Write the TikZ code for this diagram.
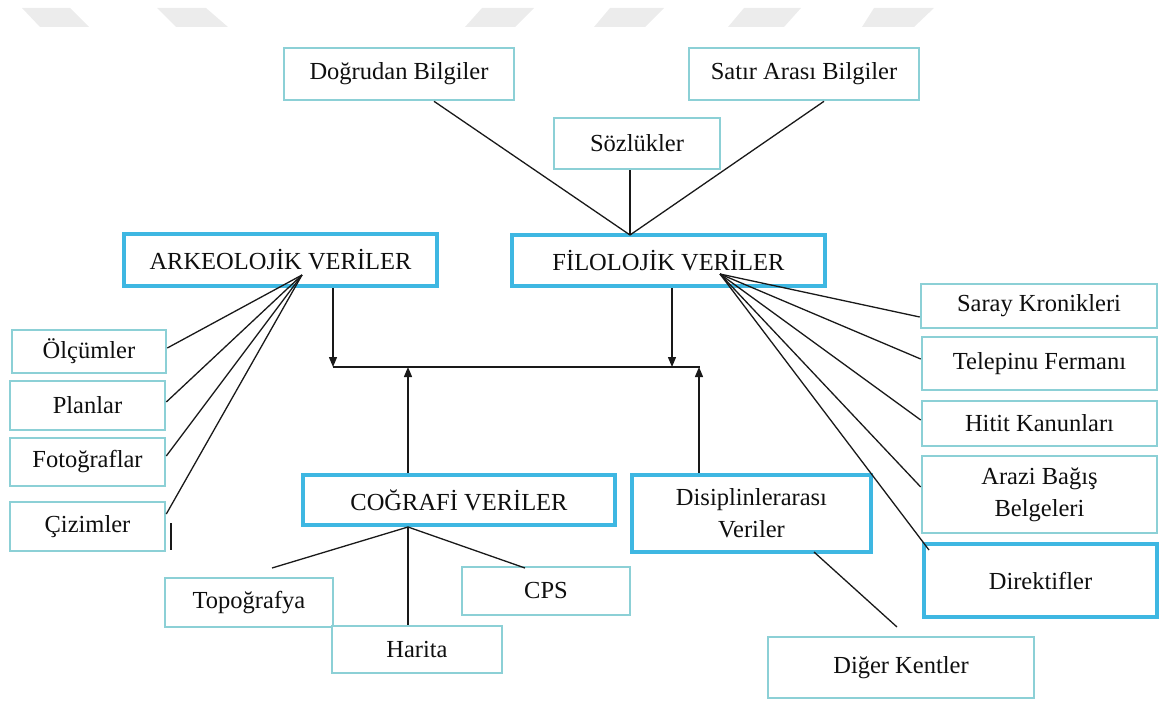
\documentclass[tikz,border=0pt]{standalone}
\usepackage{fontspec}
\setmainfont{Liberation Serif}
\usetikzlibrary{arrows.meta}
\definecolor{thinc}{RGB}{140,208,214}
\definecolor{thickc}{RGB}{62,183,226}
\definecolor{wm}{RGB}{236,236,236}
\definecolor{txt}{RGB}{15,15,15}
\tikzset{
  boxbase/.style={rectangle, fill=white, inner sep=0pt, align=center, text=txt,
    font=\fontsize{24.5}{32}\selectfont},
  thinbox/.style={boxbase, draw=thinc, line width=2.6pt},
  thickbox/.style={boxbase, draw=thickc, line width=4.8pt},
  link/.style={draw=black!90, line width=1.3pt},
  arr/.style={link, -{Triangle[length=10pt,width=8pt]}},
}
\begin{document}
\begin{tikzpicture}[x=1pt,y=-1pt]
\useasboundingbox (0,0) rectangle (1161,701);
% watermark shapes
\fill[wm] (22,8) -- (70,8) -- (89,27) -- (40,27) -- cycle;
\fill[wm] (157,8) -- (206,8) -- (228,27) -- (176,27) -- cycle;
\fill[wm] (482,8) -- (534,8) -- (515,27) -- (465,27) -- cycle;
\fill[wm] (610,8) -- (664,8) -- (645,27) -- (594,27) -- cycle;
\fill[wm] (744,8) -- (801,8) -- (784,27) -- (728,27) -- cycle;
\fill[wm] (874,8) -- (934,8) -- (914,27) -- (862,27) -- cycle;

% boxes
\node[thinbox, minimum width=230pt, minimum height=52pt] (dog) at (399,74) {Doğrudan Bilgiler};
\node[thinbox, minimum width=230pt, minimum height=52pt] (sat) at (804,74) {Satır Arası Bilgiler};
\node[thinbox, minimum width=166pt, minimum height=51pt] (soz) at (637,143.5) {Sözlükler};
\node[thickbox, minimum width=313pt, minimum height=52pt] (ark) at (280.5,260) {ARKEOLOJİK VERİLER};
\node[thickbox, minimum width=313pt, minimum height=51pt] (fil) at (668.5,260.5) {FİLOLOJİK VERİLER};
\node[thinbox, minimum width=154pt, minimum height=43pt] (olc) at (89,351.5) {Ölçümler};
\node[thinbox, minimum width=155pt, minimum height=49pt] (pla) at (87.5,405.5) {Planlar};
\node[thinbox, minimum width=155pt, minimum height=48pt] (fot) at (87.5,462) {Fotoğraflar};
\node[thinbox, minimum width=155pt, minimum height=49pt] (ciz) at (87.5,526.5) {Çizimler};
\node[thinbox, minimum width=236pt, minimum height=44pt] (sar) at (1039,306) {Saray Kronikleri};
\node[thinbox, minimum width=235pt, minimum height=53pt] (tel) at (1039.5,363.5) {Telepinu Fermanı};
\node[thinbox, minimum width=235pt, minimum height=45pt] (hit) at (1039.5,423.5) {Hitit Kanunları};
\node[thinbox, minimum width=235pt, minimum height=77pt] (ara) at (1039.5,494.5) {Arazi Bağış\\Belgeleri};
\node[thickbox, minimum width=233pt, minimum height=73pt] (dir) at (1040.5,580.5) {Direktifler};
\node[thickbox, minimum width=312pt, minimum height=50pt] (cog) at (459,500) {COĞRAFİ VERİLER};
\node[thickbox, minimum width=239pt, minimum height=77pt] (dis) at (751.5,513.5) {Disiplinlerarası\\Veriler};
\node[thinbox, minimum width=168pt, minimum height=49pt] (topo) at (249,602.5) {Topoğrafya};
\node[thinbox, minimum width=170pt, minimum height=47pt] (har) at (417,649.5) {Harita};
\node[thinbox, minimum width=168pt, minimum height=48pt] (cps) at (546,591) {CPS};
\node[thinbox, minimum width=266pt, minimum height=61pt] (dig) at (901,667.5) {Diğer Kentler};

% hubs and free ends
\coordinate (filtop) at (630,235);
\coordinate (arkhub) at (302,275);
\coordinate (filhub) at (720,274);
\coordinate (coghub) at (408,527);
\coordinate (topoend) at (272,568);
\coordinate (cpsend) at (525,568);
\coordinate (digend) at (897,627);
\coordinate (jl) at (333,367);
\coordinate (jr) at (700,367);
\coordinate (tickA) at (171,523);
\coordinate (tickB) at (171,550);

% top connectors
\draw[link] (dog.south -| 434,0) -- (filtop);
\draw[link] (soz.south -| filtop) -- (filtop);
\draw[link] (sat.south -| 824,0) -- (filtop);

% archaeology fan
\draw[link] (arkhub) -- (olc.east |- 0,348);
\draw[link] (arkhub) -- (pla.east |- 0,402);
\draw[link] (arkhub) -- (fot.east |- 0,456);
\draw[link] (arkhub) -- (ciz.east |- 0,514);
\draw[link] (tickA) -- (tickB);

% philology fan
\draw[link] (filhub) -- (sar.west |- 0,317);
\draw[link] (filhub) -- (tel.west |- 0,359);
\draw[link] (filhub) -- (hit.west |- 0,420);
\draw[link] (filhub) -- (ara.west |- 0,487);
\draw[link] (filhub) -- (929,550);

% central arrows
\draw[link] (jl) -- (jr);
\draw[arr] (ark.south -| jl) -- (jl);
\draw[arr] (fil.south -| 672,0) -- (672,367);
\draw[arr] (cog.north -| 408,0) -- (408,367);
\draw[arr] (dis.north -| 699,0) -- (699,367);

% geography fan
\draw[link] (coghub) -- (topoend);
\draw[link] (coghub) -- (cpsend);
\draw[link] (coghub) -- (har.north -| coghub);

% interdisciplinary
\draw[link] (814,552) -- (digend);
\end{tikzpicture}
\end{document}
